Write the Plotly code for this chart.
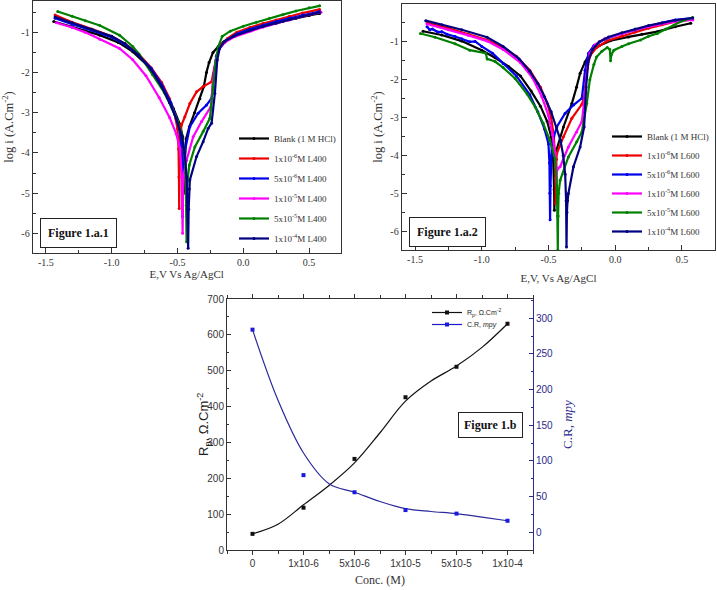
import plotly.graph_objects as go

# ---------------- Figure 1.a.1 (L400) : E (V) and log i ----------------
p1_blank_E = [-1.44, -1.3, -1.2, -1.09, -0.95, -0.84, -0.71, -0.61, -0.53, -0.48, -0.46, -0.452, -0.448, -0.444, -0.435, -0.41, -0.37, -0.33, -0.30, -0.28, -0.26, -0.23, -0.19, -0.15, -0.08, 0.0, 0.1, 0.2, 0.3, 0.4, 0.5, 0.58]
p1_blank_i = [-0.73, -0.86, -0.96, -1.07, -1.25, -1.48, -1.88, -2.35, -2.9, -3.3, -3.6, -4.2, -5.0, -4.2, -3.65, -3.35, -3.0, -2.65, -2.35, -2.0, -1.75, -1.5, -1.35, -1.24, -1.1, -1.0, -0.9, -0.81, -0.73, -0.65, -0.58, -0.53]

p1_1e6_E = [-1.43, -1.3, -1.15, -1.0, -0.9, -0.8, -0.7, -0.62, -0.56, -0.52, -0.5, -0.492, -0.489, -0.487, -0.485, -0.48, -0.469, -0.444, -0.406, -0.355, -0.305, -0.241, -0.22, -0.2, -0.17, -0.12, -0.05, 0.05, 0.15, 0.25, 0.35, 0.45, 0.58]
p1_1e6_i = [-0.57, -0.75, -0.92, -1.1, -1.28, -1.52, -1.88, -2.25, -2.65, -3.05, -3.4, -3.9, -4.6, -5.38, -4.4, -3.6, -3.3, -3.1, -2.77, -2.48, -2.35, -2.23, -1.9, -1.55, -1.32, -1.15, -1.0, -0.88, -0.78, -0.69, -0.6, -0.52, -0.43]

p1_5e6_E = [-1.43, -1.3, -1.15, -1.0, -0.9, -0.8, -0.7, -0.62, -0.55, -0.5, -0.475, -0.465, -0.461, -0.457, -0.45, -0.444, -0.406, -0.343, -0.279, -0.241, -0.223, -0.205, -0.18, -0.13, -0.05, 0.05, 0.15, 0.25, 0.35, 0.45, 0.58]
p1_5e6_i = [-0.65, -0.8, -0.95, -1.12, -1.3, -1.55, -1.9, -2.3, -2.75, -3.2, -3.6, -4.2, -5.58, -4.3, -4.05, -3.95, -3.35, -3.01, -2.81, -2.64, -2.02, -1.6, -1.38, -1.2, -1.04, -0.92, -0.82, -0.73, -0.65, -0.57, -0.48]

p1_1e5_E = [-1.42, -1.3, -1.2, -1.09, -0.94, -0.84, -0.74, -0.64, -0.56, -0.51, -0.48, -0.468, -0.463, -0.461, -0.458, -0.45, -0.431, -0.381, -0.317, -0.246, -0.229, -0.21, -0.185, -0.14, -0.06, 0.05, 0.15, 0.25, 0.35, 0.45, 0.59]
p1_1e5_i = [-0.76, -0.88, -1.0, -1.17, -1.4, -1.68, -2.08, -2.62, -3.12, -3.52, -3.9, -4.6, -5.3, -6.0, -5.0, -4.5, -4.18, -3.6, -3.22, -2.85, -2.19, -1.7, -1.42, -1.25, -1.1, -0.97, -0.87, -0.78, -0.69, -0.6, -0.5]

p1_5e5_E = [-1.41, -1.3, -1.2, -1.09, -0.94, -0.84, -0.79, -0.69, -0.6, -0.54, -0.5, -0.47, -0.45, -0.438, -0.433, -0.431, -0.428, -0.424, -0.41, -0.368, -0.305, -0.254, -0.229, -0.21, -0.19, -0.16, -0.1, 0.0, 0.1, 0.2, 0.3, 0.4, 0.5, 0.58]
p1_5e5_i = [-0.48, -0.6, -0.71, -0.83, -1.07, -1.35, -1.55, -2.05, -2.5, -2.9, -3.2, -3.5, -3.9, -4.5, -5.3, -6.21, -5.3, -4.7, -4.3, -3.85, -3.47, -3.14, -2.35, -1.75, -1.35, -1.1, -0.97, -0.85, -0.75, -0.65, -0.56, -0.47, -0.39, -0.34]

p1_1e4_E = [-1.43, -1.3, -1.15, -1.0, -0.9, -0.8, -0.7, -0.62, -0.56, -0.51, -0.47, -0.445, -0.43, -0.423, -0.419, -0.415, -0.41, -0.406, -0.355, -0.305, -0.267, -0.241, -0.216, -0.198, -0.18, -0.14, -0.07, 0.05, 0.15, 0.25, 0.35, 0.45, 0.58]
p1_1e4_i = [-0.62, -0.76, -0.92, -1.1, -1.28, -1.55, -1.93, -2.35, -2.75, -3.15, -3.55, -4.0, -4.6, -5.4, -6.37, -5.4, -4.9, -4.67, -4.09, -3.72, -3.39, -3.26, -2.52, -1.69, -1.4, -1.22, -1.09, -0.95, -0.85, -0.77, -0.68, -0.6, -0.5]

# ---------------- Figure 1.a.2 (L600) ----------------
p2_blank_E = [-1.44, -1.3, -1.15, -1.0, -0.9, -0.8, -0.71, -0.63, -0.56, -0.51, -0.48, -0.465, -0.458, -0.456, -0.453, -0.45, -0.44, -0.388, -0.325, -0.29, -0.263, -0.226, -0.186, -0.12, -0.036, 0.1, 0.2, 0.315, 0.45, 0.566]
p2_blank_i = [-0.72, -0.82, -0.98, -1.22, -1.42, -1.65, -1.9, -2.3, -2.7, -3.1, -3.5, -4.1, -4.9, -5.45, -4.9, -4.2, -3.86, -3.25, -2.63, -2.2, -1.83, -1.53, -1.28, -1.1, -0.97, -0.87, -0.8, -0.73, -0.6, -0.51]

p2_1e6_E = [-1.41, -1.25, -1.1, -0.96, -0.84, -0.74, -0.64, -0.56, -0.51, -0.48, -0.46, -0.452, -0.448, -0.446, -0.443, -0.44, -0.438, -0.388, -0.325, -0.25, -0.232, -0.22, -0.205, -0.185, -0.14, -0.06, 0.05, 0.15, 0.25, 0.35, 0.45, 0.58]
p2_1e6_i = [-0.5, -0.64, -0.8, -0.95, -1.15, -1.38, -1.75, -2.2, -2.62, -3.0, -3.5, -4.0, -4.6, -5.27, -4.6, -4.1, -3.95, -3.51, -3.02, -2.65, -2.45, -2.0, -1.6, -1.35, -1.15, -0.97, -0.85, -0.74, -0.64, -0.55, -0.47, -0.4]

p2_5e6_E = [-1.41, -1.39, -1.37, -1.33, -1.3, -1.26, -1.2, -1.15, -1.09, -1.05, -1.0, -0.92, -0.84, -0.74, -0.64, -0.58, -0.53, -0.5, -0.493, -0.49, -0.488, -0.485, -0.48, -0.475, -0.438, -0.376, -0.313, -0.25, -0.226, -0.2, -0.16, -0.08, 0.05, 0.15, 0.25, 0.35, 0.45, 0.58]
p2_5e6_i = [-0.6, -0.68, -0.66, -0.74, -0.73, -0.8, -0.86, -0.92, -1.0, -0.99, -1.12, -1.3, -1.57, -1.9, -2.4, -2.85, -3.3, -3.7, -4.2, -5.0, -5.7, -4.8, -4.0, -3.69, -3.25, -2.89, -2.67, -2.49, -1.75, -1.3, -1.1, -0.93, -0.78, -0.68, -0.59, -0.5, -0.42, -0.37]

p2_1e5_E = [-1.41, -1.25, -1.1, -0.96, -0.84, -0.71, -0.62, -0.55, -0.5, -0.47, -0.45, -0.443, -0.44, -0.437, -0.43, -0.413, -0.351, -0.288, -0.25, -0.226, -0.21, -0.19, -0.15, -0.08, 0.05, 0.15, 0.25, 0.35, 0.45, 0.58]
p2_1e5_i = [-0.53, -0.68, -0.83, -0.98, -1.2, -1.55, -1.95, -2.45, -2.95, -3.45, -3.95, -4.3, -4.7, -4.4, -4.35, -4.3, -3.78, -3.38, -3.11, -2.36, -1.7, -1.3, -1.08, -0.92, -0.78, -0.68, -0.6, -0.52, -0.46, -0.42]

p2_5e5_E = [-1.46, -1.35, -1.2, -1.09, -0.97, -0.96, -0.9, -0.84, -0.75, -0.66, -0.6, -0.54, -0.49, -0.45, -0.437, -0.432, -0.43, -0.428, -0.424, -0.413, -0.351, -0.288, -0.25, -0.213, -0.19, -0.16, -0.14, -0.1, -0.06, -0.04, -0.035, -0.03, -0.01, 0.05, 0.1, 0.19, 0.25, 0.315, 0.38, 0.44, 0.5, 0.58]
p2_5e5_i = [-0.78, -0.88, -1.05, -1.22, -1.3, -1.45, -1.52, -1.68, -1.97, -2.38, -2.72, -3.15, -3.6, -4.1, -4.8, -5.6, -6.5, -5.6, -5.0, -4.66, -4.04, -3.64, -3.38, -2.63, -2.0, -1.6, -1.4, -1.25, -1.15, -1.2, -1.5, -1.35, -1.22, -1.12, -1.05, -0.95, -0.85, -0.78, -0.66, -0.56, -0.45, -0.36]

p2_1e4_E = [-1.42, -1.3, -1.15, -0.96, -0.84, -0.72, -0.64, -0.58, -0.53, -0.48, -0.44, -0.41, -0.39, -0.375, -0.368, -0.365, -0.362, -0.357, -0.351, -0.313, -0.263, -0.233, -0.218, -0.201, -0.17, -0.12, -0.05, 0.05, 0.15, 0.25, 0.35, 0.45, 0.58]
p2_1e4_i = [-0.44, -0.55, -0.68, -0.88, -1.12, -1.45, -1.78, -2.1, -2.45, -2.85, -3.25, -3.6, -4.0, -4.5, -5.2, -6.42, -5.5, -5.2, -5.01, -4.3, -3.78, -3.25, -2.19, -1.48, -1.2, -1.0, -0.87, -0.76, -0.66, -0.57, -0.5, -0.43, -0.37]

# ---------------- Figure 1.b ----------------
conc_pos = [0, 1, 2, 3, 4, 5]
conc_labels = ["0", "1x10-6", "5x10-6", "1x10-5", "5x10-5", "1x10-4"]
rp_values = [45, 118, 254, 426, 511, 631]
cr_values = [284, 80, 56, 31, 26, 16]
fit_pos = [0, 0.5, 1, 1.5, 2, 2.5, 3, 3.5, 4, 4.5, 5]
rp_fit = [45, 72, 126, 180, 243, 327, 415, 471, 513, 565, 631]
cr_fit = [284, 185, 111, 68, 56, 43, 33, 29, 26, 21, 16]

e_ticks = [-1.5, -1.0, -0.5, 0.0, 0.5]
e_ticklabels = ["-1.5", "-1.0", "-0.5", "0.0", "0.5"]
logi_ticks1 = [-6, -5, -4, -3, -2, -1]
logi_ticks2 = [-6, -5, -4, -3, -2, -1, 0]

W, H = 717, 590
def fx(p):
    return p / W
def fy(p):
    return 1 - p / H

SERIF = "Liberation Serif"
SANS = "Liberation Sans"
colors = ["#000000", "#ee0000", "#0000ee", "#ff00ff", "#008000", "#000080"]
names1 = ["Blank (1 M HCl)", "1x10<sup>-6</sup>M L400", "5x10<sup>-6</sup>M L400",
          "1x10<sup>-5</sup>M L400", "5x10<sup>-5</sup>M L400", "1x10<sup>-4</sup>M L400"]
names2 = ["Blank (1 M HCl)", "1x10<sup>-6</sup>M L600", "5x10<sup>-6</sup>M L600",
          "1x10<sup>-5</sup>M L600", "5x10<sup>-5</sup>M L600", "1x10<sup>-4</sup>M L600"]
series1 = [(p1_blank_E, p1_blank_i), (p1_1e6_E, p1_1e6_i), (p1_5e6_E, p1_5e6_i),
           (p1_1e5_E, p1_1e5_i), (p1_5e5_E, p1_5e5_i), (p1_1e4_E, p1_1e4_i)]
series2 = [(p2_blank_E, p2_blank_i), (p2_1e6_E, p2_1e6_i), (p2_5e6_E, p2_5e6_i),
           (p2_1e5_E, p2_1e5_i), (p2_5e5_E, p2_5e5_i), (p2_1e4_E, p2_1e4_i)]

fig = go.Figure()
for k, (ex, iy) in enumerate(series1):
    fig.add_trace(go.Scatter(x=ex, y=iy, mode="lines+markers", name=names1[k],
                             line=dict(color=colors[k], width=2.2),
                             marker=dict(size=3, color=colors[k]),
                             xaxis="x", yaxis="y", legend="legend", legendgroup="a%d" % k))
for k, (ex, iy) in enumerate(series2):
    fig.add_trace(go.Scatter(x=ex, y=iy, mode="lines+markers", name=names2[k],
                             line=dict(color=colors[k], width=2.2),
                             marker=dict(size=3, color=colors[k]),
                             xaxis="x2", yaxis="y2", legend="legend2", legendgroup="b%d" % k))

# fitted curves
fig.add_trace(go.Scatter(x=fit_pos, y=rp_fit, mode="lines", line=dict(color="#111111", width=1.2, shape="spline"),
                         xaxis="x3", yaxis="y3", showlegend=False))
fig.add_trace(go.Scatter(x=fit_pos, y=cr_fit, mode="lines", line=dict(color="#2a2a9a", width=1.2, shape="spline"),
                         xaxis="x3", yaxis="y4", showlegend=False))

# points (gap-separated so the legend still shows line + marker)
def gapped(vals):
    out = []
    for v in vals:
        out += [v, None]
    return out

fig.add_trace(go.Scatter(x=gapped(conc_pos), y=gapped(rp_values), mode="lines+markers",
                         name="R<sub>p</sub>, Ω.Cm<sup>-2</sup>", connectgaps=False,
                         line=dict(color="#111111", width=1.2),
                         marker=dict(symbol="square", size=4, color="#111111"),
                         xaxis="x3", yaxis="y3", legend="legend3"))
fig.add_trace(go.Scatter(x=gapped(conc_pos), y=gapped(cr_values), mode="lines+markers",
                         name="C.R, <i>mpy</i>", connectgaps=False,
                         line=dict(color="#1a1acc", width=1.2),
                         marker=dict(symbol="square", size=4, color="#1a1add"),
                         xaxis="x3", yaxis="y4", legend="legend4"))

axis_common = dict(showline=True, linecolor="#333333", linewidth=1, mirror=True, showgrid=False,
                   zeroline=False, ticks="inside", ticklen=5, tickcolor="#333333", automargin=False,
                   tickfont=dict(family=SERIF, size=10, color="#333333"))

fig.update_layout(
    width=W, height=H, margin=dict(l=0, r=0, t=0, b=0),
    paper_bgcolor="white", plot_bgcolor="white",
    xaxis=dict(domain=[fx(32.7), fx(340.7)], range=[-1.60, 0.74], anchor="y",
               tickvals=e_ticks, ticktext=e_ticklabels,
               minor=dict(ticks="inside", ticklen=3, dtick=0.25, tick0=0, tickcolor="#333333"),
               title=dict(text="E,V Vs Ag/AgCl", font=dict(family=SERIF, size=11, color="#333333"), standoff=1),
               **axis_common),
    yaxis=dict(domain=[fy(253), fy(1)], range=[-6.49, -0.22], anchor="x",
               tickvals=logi_ticks1, ticktext=[str(v) for v in logi_ticks1],
               minor=dict(ticks="inside", ticklen=3, dtick=0.5, tick0=0, tickcolor="#333333"),
               title=dict(text="log i (A.Cm<sup>-2</sup>)", font=dict(family=SERIF, size=12.5, color="#333333"), standoff=4),
               **axis_common),
    xaxis2=dict(domain=[fx(401.7), fx(715.3)], range=[-1.60, 0.75], anchor="y2",
                tickvals=e_ticks, ticktext=e_ticklabels,
                minor=dict(ticks="inside", ticklen=3, dtick=0.25, tick0=0, tickcolor="#333333"),
                title=dict(text="E,V, Vs Ag/AgCl", font=dict(family=SERIF, size=11, color="#333333"), standoff=10),
                **axis_common),
    yaxis2=dict(domain=[fy(250), fy(4)], range=[-6.5, 0], anchor="x2",
                tickvals=logi_ticks2, ticktext=[str(v) for v in logi_ticks2],
                minor=dict(ticks="inside", ticklen=3, dtick=0.5, tick0=0, tickcolor="#333333"),
                title=dict(text="log i (A.Cm<sup>-2</sup>)", font=dict(family=SERIF, size=12.5, color="#333333"), standoff=4),
                **axis_common),
    xaxis3=dict(domain=[fx(227), fx(533)], range=[-0.5, 5.5], anchor="y3",
                tickvals=conc_pos, ticktext=conc_labels, showline=True, linecolor="#333333", linewidth=1,
                mirror="ticks", showgrid=False, zeroline=False, ticks="outside", ticklen=4, tickcolor="#333333",
                minor=dict(ticks="outside", ticklen=3, dtick=0.5, tick0=0, tickcolor="#333333"),
                tickfont=dict(family=SANS, size=10, color="#333333"), automargin=False,
                title=dict(text="Conc. (M)", font=dict(family=SERIF, size=12, color="#333333"), standoff=7)),
    yaxis3=dict(domain=[fy(550), fy(299)], range=[0, 700], anchor="x3", dtick=100,
                showline=True, linecolor="#333333", linewidth=1, mirror=False, showgrid=False, zeroline=False,
                ticks="inside", ticklen=4, tickcolor="#333333",
                minor=dict(ticks="inside", ticklen=2, dtick=50, tick0=0, tickcolor="#333333"),
                tickfont=dict(family=SANS, size=10, color="#333333"), automargin=False),
    yaxis4=dict(overlaying="y3", side="right", anchor="x3", range=[-25, 327], dtick=50,
                showline=True, linecolor="#2a2a8a", linewidth=1, showgrid=False, zeroline=False,
                ticks="inside", ticklen=4, tickcolor="#2a2a8a",
                minor=dict(ticks="inside", ticklen=2, dtick=25, tick0=0, tickcolor="#2a2a8a"),
                tickfont=dict(family=SANS, size=10, color="#2a2a8a"), automargin=False,
                title=dict(text="C.R, <i>mpy</i>", font=dict(family=SERIF, size=13, color="#2a2a8a"), standoff=10)),
    legend=dict(x=fx(234), y=fy(124), xanchor="left", yanchor="top", bgcolor="rgba(0,0,0,0)",
                font=dict(family=SERIF, size=9, color="#333333"), tracegroupgap=1, itemwidth=30,
                traceorder="grouped"),
    legend2=dict(x=fx(607), y=fy(122), xanchor="left", yanchor="top", bgcolor="rgba(0,0,0,0)",
                 font=dict(family=SERIF, size=9, color="#333333"), tracegroupgap=0, itemwidth=30,
                 traceorder="grouped"),
    legend3=dict(x=fx(427), y=fy(298), xanchor="left", yanchor="top", bgcolor="rgba(0,0,0,0)",
                 font=dict(family=SANS, size=7, color="#222222"), itemwidth=30),
    legend4=dict(x=fx(427), y=fy(310), xanchor="left", yanchor="top", bgcolor="rgba(0,0,0,0)",
                 font=dict(family=SANS, size=7, color="#222222"), itemwidth=30),
    annotations=[
        dict(text="R<sub>p</sub>, Ω.Cm<sup>-2</sup>", x=fx(204), y=fy(425), xref="paper", yref="paper",
             xanchor="center", yanchor="middle",
             showarrow=False, textangle=-90, font=dict(family=SANS, size=13, color="#222222")),
        dict(text="<b>Figure 1.a.1</b>", x=fx(78), y=fy(233.5), xref="paper", yref="paper", showarrow=False,
             xanchor="center", yanchor="middle",
             font=dict(family=SERIF, size=12, color="#111111"), bordercolor="#222222", borderwidth=1,
             borderpad=7, bgcolor="white"),
        dict(text="<b>Figure 1.a.2</b>", x=fx(447), y=fy(231.5), xref="paper", yref="paper", showarrow=False,
             xanchor="center", yanchor="middle",
             font=dict(family=SERIF, size=12, color="#111111"), bordercolor="#222222", borderwidth=1,
             borderpad=7, bgcolor="white"),
        dict(text="<b>Figure 1.b</b>", x=fx(490), y=fy(425), xref="paper", yref="paper", showarrow=False,
             xanchor="center", yanchor="middle",
             font=dict(family=SERIF, size=12, color="#111111"), bordercolor="#222222", borderwidth=1,
             borderpad=5, bgcolor="white"),
    ],
)

fig.write_html("out.html", config={"displayModeBar": False},
               post_script="document.body.style.margin='0px';")
